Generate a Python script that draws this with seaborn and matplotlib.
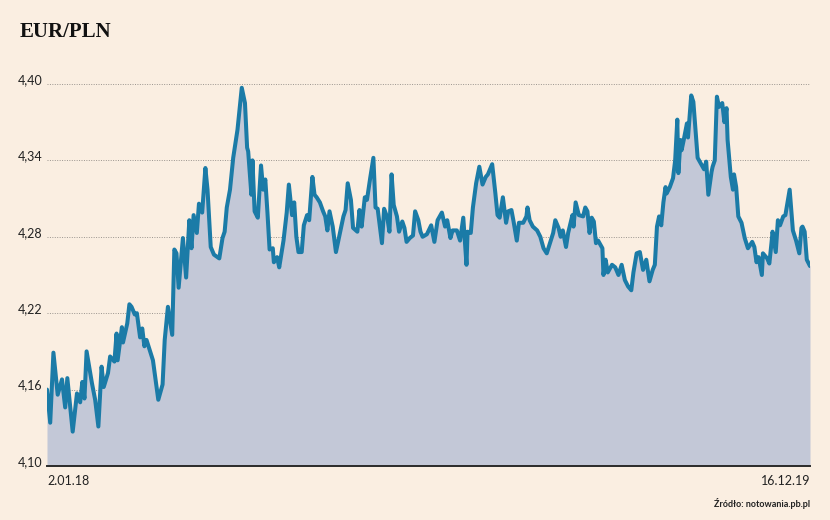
import pandas as pd
import matplotlib
matplotlib.use("Agg")
import matplotlib.pyplot as plt
import seaborn as sns

# Kurs EUR/PLN (dni od 2.01.2018)
start = pd.Timestamp("2018-01-02")
end = pd.Timestamp("2019-12-16")

days = [
    0, 3, 6, 10, 14, 17, 19, 24, 28, 31,
    33, 35, 37, 42, 45, 48, 51, 53, 57, 59,
    63, 65, 66, 70, 71, 75, 77, 79, 82, 84,
    87, 89, 91, 93, 96, 99, 104, 108, 110, 113,
    117, 119, 121, 123, 127, 130, 133, 135, 137, 140,
    142, 145, 148, 150, 153, 156, 161, 164, 166, 168,
    171, 174, 178, 182, 185, 187, 188, 191, 192, 194,
    197, 200, 202, 204, 206, 208, 211, 212, 215, 217,
    221, 224, 226, 229, 231, 233, 235, 238, 240, 243,
    245, 248, 250, 252, 255, 258, 260, 262, 264, 267,
    270, 274, 277, 279, 281, 284, 286, 290, 292, 294,
    297, 299, 302, 305, 307, 309, 313, 315, 318, 320,
    322, 324, 327, 329, 332, 334, 336, 339, 342, 344,
    347, 349, 351, 355, 359, 362, 365, 369, 372, 374,
    377, 379, 383, 386, 389, 392, 393, 396, 398, 401,
    404, 407, 410, 412, 416, 419, 421, 423, 426, 429,
    431, 434, 436, 439, 441, 445, 448, 449, 451, 454,
    458, 461, 464, 467, 470, 473, 475, 478, 480, 482,
    485, 487, 491, 492, 494, 497, 501, 503, 505, 507,
    509, 511, 513, 515, 519, 520, 522, 524, 528, 531,
    534, 537, 540, 543, 546, 548, 551, 554, 557, 560,
    563, 566, 568, 570, 572, 574, 576, 578, 579, 582,
    585, 587, 589, 590, 592, 593, 595, 598, 599, 602,
    604, 606, 608, 612, 614, 616, 618, 621, 622, 624,
    626, 628, 631, 633, 635, 636, 639, 641, 642, 644,
    646, 649, 652, 655, 659, 661, 663, 665, 668, 669,
    673, 675, 677, 678, 681, 683, 685, 688, 690, 692,
    694, 697, 700, 703, 705, 706, 708, 710, 713,
]

rate = [
    4.160, 4.134, 4.189, 4.156, 4.168, 4.146, 4.169, 4.127, 4.157, 4.150,
    4.166, 4.153, 4.190, 4.165, 4.152, 4.131, 4.178, 4.162, 4.173, 4.186,
    4.182, 4.204, 4.183, 4.209, 4.197, 4.212, 4.227, 4.225, 4.219, 4.220,
    4.201, 4.208, 4.194, 4.199, 4.191, 4.183, 4.152, 4.164, 4.199, 4.225,
    4.203, 4.270, 4.267, 4.240, 4.279, 4.248, 4.293, 4.271, 4.297, 4.283,
    4.306, 4.299, 4.334, 4.317, 4.272, 4.266, 4.263, 4.279, 4.284, 4.303,
    4.317, 4.342, 4.364, 4.397, 4.385, 4.350, 4.347, 4.313, 4.340, 4.300,
    4.295, 4.336, 4.317, 4.325, 4.299, 4.270, 4.271, 4.260, 4.264, 4.256,
    4.277, 4.299, 4.321, 4.297, 4.307, 4.280, 4.268, 4.268, 4.289, 4.297,
    4.293, 4.327, 4.313, 4.311, 4.307, 4.300, 4.296, 4.285, 4.300, 4.288,
    4.268, 4.284, 4.296, 4.301, 4.322, 4.309, 4.287, 4.284, 4.301, 4.288,
    4.311, 4.309, 4.326, 4.342, 4.303, 4.302, 4.275, 4.302, 4.295, 4.284,
    4.329, 4.305, 4.296, 4.284, 4.292, 4.287, 4.276, 4.279, 4.281, 4.300,
    4.293, 4.284, 4.280, 4.282, 4.289, 4.276, 4.293, 4.299, 4.288, 4.293,
    4.279, 4.285, 4.285, 4.277, 4.295, 4.258, 4.284, 4.283, 4.303, 4.322,
    4.335, 4.321, 4.327, 4.329, 4.337, 4.314, 4.297, 4.295, 4.311, 4.291,
    4.300, 4.301, 4.292, 4.277, 4.291, 4.291, 4.296, 4.303, 4.293, 4.288,
    4.285, 4.280, 4.271, 4.267, 4.275, 4.283, 4.293, 4.287, 4.280, 4.285,
    4.272, 4.283, 4.297, 4.288, 4.307, 4.297, 4.296, 4.303, 4.300, 4.283,
    4.295, 4.292, 4.275, 4.277, 4.271, 4.250, 4.262, 4.252, 4.258, 4.256,
    4.250, 4.258, 4.246, 4.241, 4.238, 4.252, 4.267, 4.268, 4.254, 4.262,
    4.245, 4.254, 4.258, 4.288, 4.296, 4.289, 4.307, 4.319, 4.314, 4.319,
    4.326, 4.340, 4.372, 4.330, 4.356, 4.348, 4.356, 4.369, 4.358, 4.391,
    4.386, 4.364, 4.342, 4.336, 4.333, 4.339, 4.313, 4.331, 4.335, 4.340,
    4.390, 4.382, 4.385, 4.370, 4.381, 4.356, 4.327, 4.317, 4.329, 4.319,
    4.296, 4.291, 4.279, 4.271, 4.276, 4.272, 4.260, 4.264, 4.250, 4.267,
    4.263, 4.259, 4.275, 4.284, 4.268, 4.293, 4.289, 4.296, 4.297, 4.307,
    4.317, 4.285, 4.277, 4.267, 4.287, 4.288, 4.284, 4.262, 4.257,
]

y_ticks = [4.10, 4.16, 4.22, 4.28, 4.34, 4.40]
y_labels = ["4,10", "4,16", "4,22", "4,28", "4,34", "4,40"]
x_labels = ["2.01.18", "16.12.19"]

df = pd.DataFrame({"data": start + pd.to_timedelta(days, unit="D"), "kurs": rate})

bg = "#faeee1"
sns.set_theme(style="white", rc={"figure.facecolor": bg, "axes.facecolor": bg})
plt.rcParams["font.family"] = ["Lato", "DejaVu Sans"]

fig = plt.figure(figsize=(8.3, 5.2), dpi=100)
ax = fig.add_axes([47 / 830, 54 / 520, 763 / 830, 407.5 / 520])

ax.fill_between(df["data"], df["kurs"], 4.10, color="#c3c8d7", lw=0, zorder=1)
sns.lineplot(data=df, x="data", y="kurs", ax=ax, color="#1b7ba7", lw=2.9, zorder=3)

ax.set_xlim(start, end)
ax.set_ylim(4.10, 4.42)

ax.set_yticks(y_ticks)
ax.set_yticklabels(y_labels)
ax.set_xticks([start, end])
ax.set_xticklabels(x_labels)
ax.tick_params(axis="y", length=0, pad=3, labelsize=9, labelcolor="#222222")
ax.tick_params(axis="x", length=0, pad=6.5, labelsize=9, labelcolor="#222222")
for lbl in ax.get_yticklabels():
    lbl.set_va("baseline")
xl = ax.get_xticklabels()
xl[0].set_ha("left")
xl[1].set_ha("right")

ax.grid(axis="y", linestyle=(0, (1, 1.5)), color="#9a948e", lw=0.7, zorder=0)
ax.set_axisbelow(True)
for s in ["top", "right", "left"]:
    ax.spines[s].set_visible(False)
ax.spines["bottom"].set_color("#2a2a2a")
ax.spines["bottom"].set_linewidth(1.4)
ax.spines["bottom"].set_zorder(4)
ax.set_xlabel("")
ax.set_ylabel("")

fig.text(20 / 830, 1 - 37 / 520, "EUR/PLN", family="Liberation Serif",
         fontweight="bold", fontsize=15, va="baseline", color="#111111")
fig.text(810 / 830, 1 - 507 / 520, "Źródło: notowania.pb.pl", ha="right",
         va="baseline", fontsize=6.5, fontweight="bold", color="#222222")

fig.savefig("out.png", dpi=100, facecolor=bg)
